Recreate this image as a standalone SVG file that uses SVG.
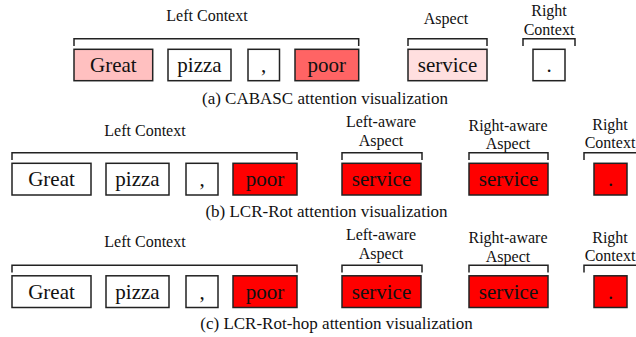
<svg xmlns="http://www.w3.org/2000/svg" width="636" height="337" viewBox="0 0 636 337">
<style>
text{font-family:"Liberation Serif","DejaVu Serif",serif;fill:#111}
.lbl{font-size:16px;text-anchor:middle}
.cap{font-size:17px;text-anchor:middle}
.w{font-size:21px;text-anchor:middle}
.box{stroke:#222;stroke-width:1.5}
.br{fill:none;stroke:#222;stroke-width:1.5}
</style>
<rect width="636" height="337" fill="#fff"/>
<g id="connectors">
<!-- row a -->
<path class="br" d="M74,46 V38.7 H358.7 V46"/>
<path class="br" d="M408,46 V38.7 H487 V46"/>
<path class="br" d="M523,46 V38.7 H575 V46"/>
<!-- row b -->
<path class="br" d="M12,160 V152.7 H297 V160"/>
<path class="br" d="M342,160 V152.7 H422 V160"/>
<path class="br" d="M469,160 V152.7 H548 V160"/>
<path class="br" d="M584,160 V152.7 H637 V160"/>
<!-- row c -->
<path class="br" d="M12,272.5 V265.2 H297 V272.5"/>
<path class="br" d="M342,272.5 V265.2 H422 V272.5"/>
<path class="br" d="M469,272.5 V265.2 H548 V272.5"/>
<path class="br" d="M584,272.5 V265.2 H637 V272.5"/>
</g>
<g id="labels-a">
<text class="lbl" x="207" y="21">Left Context</text>
<text class="lbl" x="446" y="24">Aspect</text>
<text class="lbl" x="549" y="16">Right</text>
<text class="lbl" x="549" y="35">Context</text>
</g>
<g id="a-great"><rect class="box" x="74" y="49.3" width="78.7" height="31.4" fill="#ffc0c0"/><text class="w" x="113.3" y="72">Great</text></g>
<g id="a-pizza"><rect class="box" x="168" y="49.3" width="63" height="31.4" fill="#fff"/><text class="w" x="199.5" y="72">pizza</text></g>
<g id="a-comma"><rect class="box" x="248" y="49.3" width="31.5" height="31.4" fill="#fff"/><text class="w" x="263.7" y="72">,</text></g>
<g id="a-poor"><rect class="box" x="295" y="49.3" width="63.7" height="31.4" fill="#ff6464"/><text class="w" x="326.8" y="72">poor</text></g>
<g id="a-service"><rect class="box" x="408" y="49.3" width="79" height="31.4" fill="#ffdfdf"/><text class="w" x="447.5" y="72">service</text></g>
<g id="a-dot"><rect class="box" x="533" y="49.3" width="32" height="31.4" fill="#fff"/><text class="w" x="549" y="72">.</text></g>
<text class="cap" x="325" y="104">(a) CABASC attention visualization</text>

<g id="labels-b">
<text class="lbl" x="145" y="136">Left Context</text>
<text class="lbl" x="381" y="127.3">Left-aware</text>
<text class="lbl" x="381" y="146">Aspect</text>
<text class="lbl" x="508" y="130.7">Right-aware</text>
<text class="lbl" x="508" y="149.3">Aspect</text>
<text class="lbl" x="610" y="130">Right</text>
<text class="lbl" x="610" y="148.3">Context</text>
</g>
<g id="b-great"><rect class="box" x="12" y="163.3" width="79" height="31.7" fill="#fff"/><text class="w" x="51.5" y="186">Great</text></g>
<g id="b-pizza"><rect class="box" x="106" y="163.3" width="63" height="31.7" fill="#fff"/><text class="w" x="137.5" y="186">pizza</text></g>
<g id="b-comma"><rect class="box" x="186" y="163.3" width="32" height="31.7" fill="#fff"/><text class="w" x="202" y="186">,</text></g>
<g id="b-poor"><rect class="box" x="233" y="163.3" width="64" height="31.7" fill="#ff0000"/><text class="w" x="265" y="186">poor</text></g>
<g id="b-service-l"><rect class="box" x="342" y="163.3" width="79" height="31.7" fill="#ff0000"/><text class="w" x="381.5" y="186">service</text></g>
<g id="b-service-r"><rect class="box" x="469" y="163.3" width="79" height="31.7" fill="#ff0000"/><text class="w" x="508.5" y="186">service</text></g>
<g id="b-dot"><rect class="box" x="594" y="163.3" width="33" height="31.7" fill="#ff0000"/><text class="w" x="610.5" y="186">.</text></g>
<text class="cap" x="326.5" y="216.7">(b) LCR-Rot attention visualization</text>

<g id="labels-c">
<text class="lbl" x="145" y="247">Left Context</text>
<text class="lbl" x="381" y="240">Left-aware</text>
<text class="lbl" x="381" y="258.5">Aspect</text>
<text class="lbl" x="508" y="243.2">Right-aware</text>
<text class="lbl" x="508" y="261.8">Aspect</text>
<text class="lbl" x="610" y="242.5">Right</text>
<text class="lbl" x="610" y="260.8">Context</text>
</g>
<g id="c-great"><rect class="box" x="12" y="275.8" width="79" height="31.7" fill="#fff"/><text class="w" x="51.5" y="298.5">Great</text></g>
<g id="c-pizza"><rect class="box" x="106" y="275.8" width="63" height="31.7" fill="#fff"/><text class="w" x="137.5" y="298.5">pizza</text></g>
<g id="c-comma"><rect class="box" x="186" y="275.8" width="32" height="31.7" fill="#fff"/><text class="w" x="202" y="298.5">,</text></g>
<g id="c-poor"><rect class="box" x="233" y="275.8" width="64" height="31.7" fill="#ff0000"/><text class="w" x="265" y="298.5">poor</text></g>
<g id="c-service-l"><rect class="box" x="342" y="275.8" width="79" height="31.7" fill="#ff0000"/><text class="w" x="381.5" y="298.5">service</text></g>
<g id="c-service-r"><rect class="box" x="469" y="275.8" width="79" height="31.7" fill="#ff0000"/><text class="w" x="508.5" y="298.5">service</text></g>
<g id="c-dot"><rect class="box" x="594" y="275.8" width="33" height="31.7" fill="#ff0000"/><text class="w" x="610.5" y="298.5">.</text></g>
<text class="cap" x="336.5" y="329">(c) LCR-Rot-hop attention visualization</text>
</svg>
